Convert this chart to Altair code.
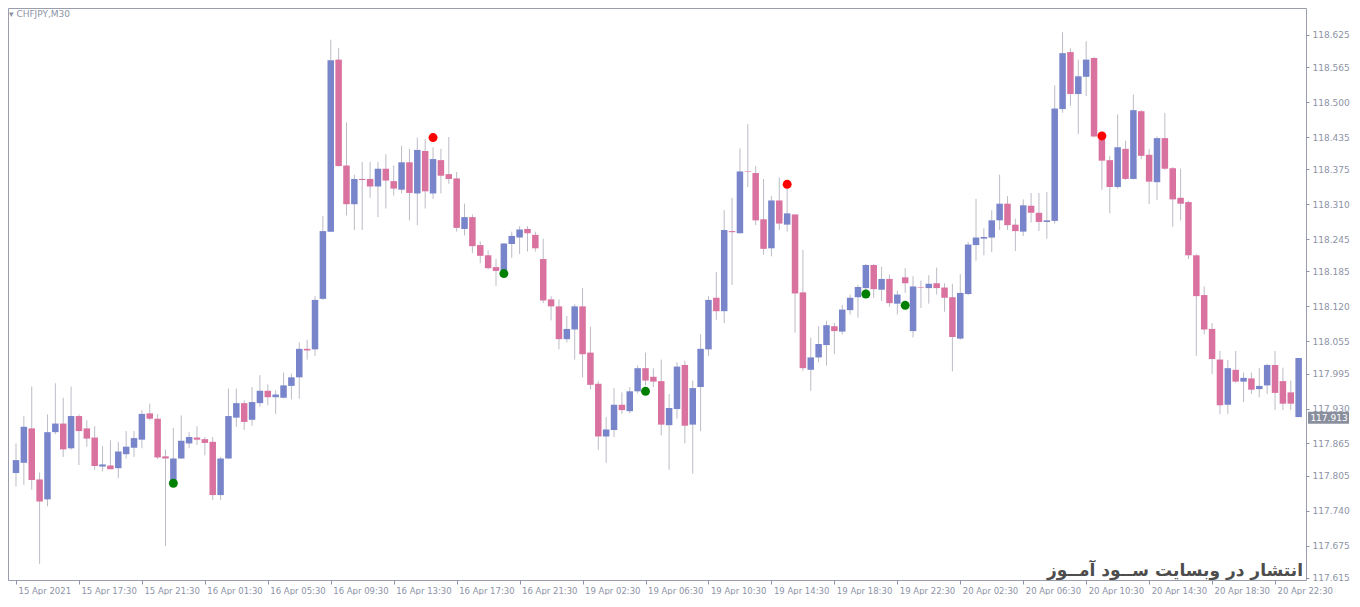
import altair as alt
import pandas as pd
import numpy as np

opens = [117.810,117.829,117.893,117.798,117.761,117.886,117.902,117.856,117.916,117.893,
         117.876,117.822,117.824,117.819,117.845,117.857,117.872,117.921,117.911,117.841,
         117.797,117.837,117.865,117.876,117.873,117.868,117.769,117.837,117.913,117.940,
         117.909,117.940,117.963,117.951,117.950,117.972,117.988,118.041,118.040,118.134,
         118.259,118.579,118.382,118.310,118.357,118.357,118.343,118.376,118.353,118.337,
         118.388,118.330,118.409,118.330,118.392,118.366,118.358,118.264,118.286,118.234,
         118.215,118.193,118.186,118.236,118.248,118.264,118.253,118.208,118.133,118.120,
         118.059,118.077,118.120,118.034,117.976,117.878,117.890,117.937,117.925,117.962,
         118.005,117.989,117.981,117.899,117.929,118.011,117.900,117.970,118.040,118.136,
         118.111,118.260,118.256,118.371,118.368,118.282,118.228,118.317,118.272,118.291,
         118.146,118.002,118.025,118.048,118.083,118.073,118.113,118.137,118.154,118.197,
         118.151,118.171,118.125,118.174,118.074,118.156,118.154,118.163,118.155,118.137,
         118.060,118.143,118.234,118.246,118.248,118.280,118.311,118.272,118.259,118.307,
         118.294,118.277,118.279,118.487,118.593,118.515,118.547,118.582,118.437,118.392,
         118.342,118.413,118.357,118.483,118.402,118.351,118.433,118.377,118.322,118.314,
         118.215,118.141,118.078,118.021,117.937,118.002,117.980,117.986,117.966,117.973,
         118.011,117.981,117.960,117.914]
highs = [117.865,117.916,117.971,117.811,117.919,117.977,117.950,117.971,117.919,117.908,
         117.897,117.860,117.871,117.868,117.888,117.888,117.927,117.939,117.920,117.854,
         117.894,117.917,117.886,117.897,117.877,117.877,117.840,117.967,117.967,117.945,
         117.970,117.992,117.975,117.964,117.997,117.995,118.053,118.058,118.139,118.288,
         118.616,118.601,118.462,118.365,118.389,118.389,118.389,118.403,118.382,118.419,
         118.413,118.434,118.431,118.416,118.413,118.435,118.370,118.311,118.291,118.241,
         118.224,118.208,118.237,118.259,118.269,118.269,118.259,118.246,118.139,118.133,
         118.102,118.124,118.154,118.082,117.981,117.914,117.968,117.960,117.970,118.010,
         118.034,118.005,118.021,117.957,118.016,118.019,117.982,118.068,118.139,118.184,
         118.299,118.322,118.414,118.459,118.381,118.357,118.325,118.360,118.339,118.291,
         118.225,118.062,118.083,118.093,118.089,118.123,118.142,118.160,118.199,118.199,
         118.194,118.179,118.149,118.191,118.176,118.168,118.178,118.192,118.163,118.162,
         118.180,118.240,118.320,118.265,118.299,118.365,118.325,118.283,118.319,118.331,
         118.331,118.333,118.531,118.630,118.600,118.579,118.613,118.584,118.443,118.400,
         118.477,118.428,118.514,118.485,118.413,118.436,118.480,118.379,118.376,118.316,
         118.217,118.157,118.089,118.037,118.020,118.037,117.997,117.997,118.005,118.013,
         118.037,118.006,117.982,118.024]
lows = [117.785,117.788,117.779,117.641,117.748,117.882,117.840,117.853,117.825,117.859,
        117.816,117.813,117.818,117.800,117.837,117.840,117.856,117.908,117.836,117.674,
        117.794,117.836,117.856,117.862,117.843,117.760,117.760,117.836,117.896,117.890,
        117.898,117.933,117.936,117.920,117.949,117.947,117.948,118.021,118.028,118.132,
        118.259,118.380,118.289,118.262,118.262,118.322,118.286,118.302,118.326,118.330,
        118.280,118.271,118.302,118.320,118.330,118.348,118.259,118.252,118.219,118.200,
        118.189,118.158,118.186,118.210,118.217,118.222,118.222,118.126,118.094,118.040,
        118.053,118.021,117.988,117.966,117.853,117.829,117.877,117.920,117.921,117.958,
        117.973,117.970,117.880,117.816,117.911,117.865,117.809,117.888,118.028,118.095,
        118.089,118.160,118.256,118.342,118.271,118.216,118.213,118.262,118.259,118.071,
        118.000,117.963,118.016,118.010,118.031,118.068,118.105,118.099,118.145,118.136,
        118.130,118.119,118.105,118.145,118.062,118.117,118.125,118.142,118.110,117.999,
        118.058,118.141,118.205,118.215,118.221,118.262,118.262,118.223,118.251,118.276,
        118.260,118.246,118.274,118.480,118.493,118.440,118.511,118.434,118.337,118.293,
        118.339,118.355,118.356,118.394,118.310,118.318,118.374,118.268,118.280,118.208,
        118.028,118.068,117.994,117.919,117.920,117.978,117.942,117.957,117.951,117.957,
        117.927,117.927,117.927,117.914]
closes = [117.834,117.896,117.797,117.757,117.886,117.902,117.854,117.916,117.888,117.874,
          117.823,117.826,117.817,117.850,117.859,117.875,117.920,117.911,117.839,117.837,
          117.837,117.870,117.877,117.872,117.866,117.769,117.837,117.916,117.940,117.905,
          117.942,117.963,117.951,117.956,117.973,117.988,118.041,118.038,118.132,118.260,
          118.578,118.381,118.310,118.357,118.355,118.343,118.376,118.354,118.339,118.388,
          118.331,118.411,118.334,118.394,118.363,118.357,118.266,118.286,118.232,118.214,
          118.191,118.186,118.237,118.251,118.263,118.256,118.228,118.131,118.120,118.059,
          118.078,118.120,118.031,117.974,117.878,117.891,117.937,117.927,117.962,118.005,
          117.982,117.980,117.900,117.931,118.008,117.898,117.968,118.041,118.132,118.111,
          118.262,118.258,118.371,118.370,118.280,118.227,118.317,118.274,118.293,118.144,
          118.005,118.025,118.050,118.085,118.074,118.114,118.136,118.156,118.197,118.152,
          118.171,118.126,118.142,118.163,118.157,118.155,118.162,118.154,118.136,118.063,
          118.145,118.235,118.248,118.249,118.280,118.311,118.271,118.260,118.308,118.294,
          118.277,118.280,118.488,118.591,118.515,118.548,118.579,118.436,118.391,118.342,
          118.416,118.357,118.485,118.400,118.352,118.433,118.376,118.319,118.311,118.215,
          118.139,118.077,118.022,117.936,118.005,117.980,117.987,117.965,117.972,118.011,
          117.959,117.939,117.939,118.024]

x_tick_labels = ["15 Apr 2021", "15 Apr 17:30", "15 Apr 21:30", "16 Apr 01:30", "16 Apr 05:30",
                 "16 Apr 09:30", "16 Apr 13:30", "16 Apr 17:30", "16 Apr 21:30", "19 Apr 02:30",
                 "19 Apr 06:30", "19 Apr 10:30", "19 Apr 14:30", "19 Apr 18:30", "19 Apr 22:30",
                 "20 Apr 02:30", "20 Apr 06:30", "20 Apr 10:30", "20 Apr 14:30", "20 Apr 18:30",
                 "20 Apr 22:30"]
x_tick_step = 8
y_ticks = [118.625, 118.565, 118.500, 118.435, 118.375, 118.310, 118.245, 118.185, 118.120,
           118.055, 117.995, 117.930, 117.865, 117.805, 117.740, 117.675, 117.615]

red_idx = [53, 98, 138]
red_price = [118.434, 118.347, 118.437]
green_idx = [20, 62, 80, 108, 113]
green_price = [117.791, 118.181, 117.962, 118.143, 118.122]
last_price = [117.913]

title_text = "▾  CHFJPY,M30"
watermark = "انتشار در وبسایت ســود آمــوز"

BLUE = "#7985cb"
PINK = "#da72a0"
WICK = "#bcbcc6"
LABEL = "#8d93a6"
FONT = "DejaVu Sans"

W, H = 1298, 572

df = pd.DataFrame({"i": np.arange(len(opens)), "open": opens, "high": highs,
                   "low": lows, "close": closes})
df["dir"] = np.where(df["close"] >= df["open"], "up", "down")

xs = alt.Scale(domain=[-0.38, 163.3], nice=False, zero=False)
ys = alt.Scale(domain=[117.611, 118.675], nice=False, zero=False)

lab_arr = "[" + ",".join("'" + s + "'" for s in x_tick_labels) + "]"
x_axis = alt.Axis(values=list(range(0, x_tick_step * len(x_tick_labels), x_tick_step)),
                  labelExpr=lab_arr + "[round(datum.value/8)]",
                  orient="bottom", grid=False, domain=False, tickSize=4, tickColor=LABEL,
                  labelAlign="left", labelPadding=2, labelOffset=2, labelFlush=False,
                  labelOverlap=False, labelFont=FONT, labelFontSize=8.5, labelColor=LABEL,
                  title=None)
y_axis = alt.Axis(values=y_ticks, format=".3f", orient="right", grid=False, domain=False,
                  tickSize=3, tickColor=LABEL, labelPadding=3, labelFlush=False,
                  labelOverlap=False, labelFont=FONT, labelFontSize=9, labelColor=LABEL,
                  title=None)

base = alt.Chart(df)
wicks = base.mark_rule(color=WICK, strokeWidth=1).encode(
    x=alt.X("i:Q", scale=xs, axis=x_axis),
    y=alt.Y("low:Q", scale=ys, axis=y_axis),
    y2="high:Q")
bodies = base.mark_bar(size=6.5).encode(
    x=alt.X("i:Q", scale=xs, axis=x_axis),
    y=alt.Y("open:Q", scale=ys, axis=y_axis),
    y2="close:Q",
    color=alt.Color("dir:N", scale=alt.Scale(domain=["up", "down"], range=[BLUE, PINK]),
                    legend=None))

reds = alt.Chart(pd.DataFrame({"i": red_idx, "p": red_price})).mark_circle(
    size=80, color="#ff0000", opacity=1).encode(
    x=alt.X("i:Q", scale=xs, axis=x_axis), y=alt.Y("p:Q", scale=ys, axis=y_axis))
greens = alt.Chart(pd.DataFrame({"i": green_idx, "p": green_price})).mark_circle(
    size=80, color="#008000", opacity=1).encode(
    x=alt.X("i:Q", scale=xs, axis=x_axis), y=alt.Y("p:Q", scale=ys, axis=y_axis))

lp = pd.DataFrame({"p": last_price})
price_box = alt.Chart(lp).mark_rect(color="#8a8f9e", yOffset=-6, y2Offset=6).encode(
    x=alt.value(W + 2), x2=alt.value(W + 43),
    y=alt.Y("p:Q", scale=ys, axis=y_axis), y2="p:Q")
price_text = alt.Chart(lp).mark_text(color="white", font=FONT, fontSize=9,
                                     align="center", baseline="middle").encode(
    x=alt.value(W + 23), y=alt.Y("p:Q", scale=ys, axis=y_axis),
    text=alt.Text("p:Q", format=".3f"))

title = alt.Chart(pd.DataFrame({"t": [title_text]})).mark_text(
    color=LABEL, font=FONT, fontSize=9, align="left", baseline="middle").encode(
    x=alt.value(1), y=alt.value(6), text="t:N")
wm = alt.Chart(pd.DataFrame({"t": [watermark]})).mark_text(
    color="#4d4d4d", font=FONT, fontSize=17, fontWeight="bold", align="right",
    baseline="middle").encode(x=alt.value(W - 3), y=alt.value(H - 9), text="t:N")

chart = alt.layer(wicks, bodies, reds, greens, price_box, price_text, title, wm).properties(
    width=W, height=H, padding={"left": 0, "top": 0, "right": 0, "bottom": 0},
    background="white"
).configure_view(stroke="#9a9eac", strokeWidth=1)

chart.save("out.html", embed_options={"renderer": "svg", "actions": False})
